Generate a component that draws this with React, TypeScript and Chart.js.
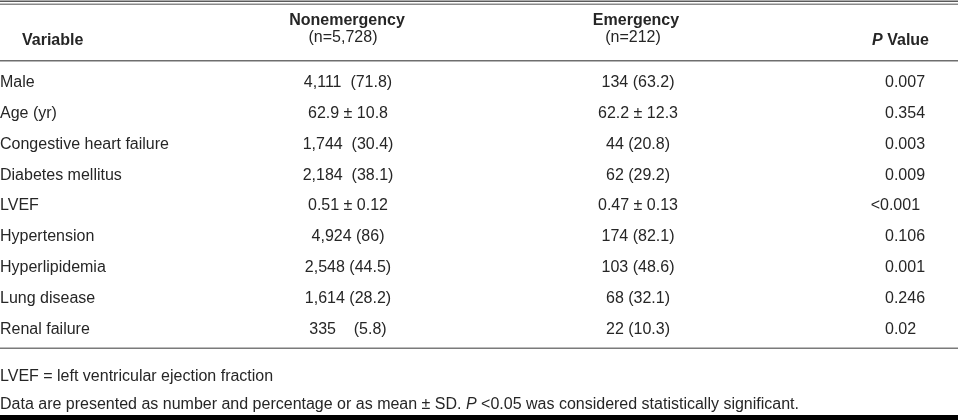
import React, { useEffect, useRef } from "react";
import { Chart, registerables } from "chart.js";

Chart.register(...registerables);

const variables = [
  "Male",
  "Age (yr)",
  "Congestive heart failure",
  "Diabetes mellitus",
  "LVEF",
  "Hypertension",
  "Hyperlipidemia",
  "Lung disease",
  "Renal failure",
];
const nonEmergency = [
  "4,111  (71.8)",
  "62.9 ± 10.8",
  "1,744  (30.4)",
  "2,184  (38.1)",
  "0.51 ± 0.12",
  "4,924 (86)",
  "2,548 (44.5)",
  "1,614 (28.2)",
  "335    (5.8)",
];
const emergency = [
  "134 (63.2)",
  "62.2 ± 12.3",
  "44 (20.8)",
  "62 (29.2)",
  "0.47 ± 0.13",
  "174 (82.1)",
  "103 (48.6)",
  "68 (32.1)",
  "22 (10.3)",
];
const pValues = ["0.007", "0.354", "0.003", "0.009", "<0.001", "0.106", "0.001", "0.246", "0.02"];
const headers = ["Variable", "Nonemergency", "(n=5,728)", "Emergency", "(n=212)", "Value"];
const footnote1 = "LVEF = left ventricular ejection fraction";
const footnote2a = "Data are presented as number and percentage or as mean ± SD. ";
const footnote2b = " <0.05 was considered statistically significant.";

const FONT = "'Liberation Sans', Arial, Helvetica, sans-serif";
const TEXT = "#262626";
const W = 958;
const H = 420;

const tablePlugin = {
  id: "tablePlugin",
  afterDraw(chart: any) {
    const ctx = chart.ctx as CanvasRenderingContext2D;
    const y = chart.scales.y;
    const colNon = 348;
    const colEm = 638;
    const colP = 885;
    ctx.save();
    ctx.textBaseline = "middle";

    // rules
    const hline = (yy: number, t: number, c: string) => {
      ctx.fillStyle = c;
      ctx.fillRect(0, yy, W, t);
    };
    hline(0.5, 1.5, "#5a5a5a");
    hline(3.5, 1.5, "#8a8a8a");
    hline(60, 1.5, "#6e6e6e");
    hline(347.5, 1.5, "#7a7a7a");
    hline(415, 5, "#000000");

    ctx.fillStyle = TEXT;
    // header
    ctx.font = `bold 16px ${FONT}`;
    ctx.textAlign = "left";
    ctx.fillText(headers[0], 22, 40.5);
    ctx.textAlign = "center";
    ctx.fillText(headers[1], colNon - 1, 20.5);
    ctx.fillText(headers[3], colEm - 2, 20.5);
    ctx.font = `16px ${FONT}`;
    ctx.fillText(headers[2], colNon - 5, 37.5);
    ctx.fillText(headers[4], colEm - 5, 37.5);
    // P Value
    ctx.font = `bold 16px ${FONT}`;
    const vw = ctx.measureText(" " + headers[5]).width;
    ctx.textAlign = "right";
    ctx.fillText(" " + headers[5], 929, 40.5);
    ctx.font = `italic bold 16px ${FONT}`;
    ctx.fillText("P", 929 - vw, 40.5);

    // cells
    ctx.font = `16px ${FONT}`;
    variables.forEach((_, i) => {
      const py = y.getPixelForValue(i);
      ctx.textAlign = "center";
      ctx.fillText(nonEmergency[i], colNon, py);
      ctx.fillText(emergency[i], colEm, py);
      const p = pValues[i];
      ctx.textAlign = "left";
      if (p.startsWith("<")) {
        const num = p.slice(1);
        ctx.fillText(num, colP - 5, py);
        ctx.textAlign = "right";
        ctx.fillText("<", colP - 5, py);
      } else {
        ctx.fillText(p, colP, py);
      }
    });

    // footnotes
    ctx.textAlign = "left";
    ctx.font = `16px ${FONT}`;
    ctx.fillText(footnote1, 0, 377);
    let x = 0;
    ctx.fillText(footnote2a, x, 405);
    x += ctx.measureText(footnote2a).width;
    ctx.font = `italic 16px ${FONT}`;
    ctx.fillText("P", x, 405);
    x += ctx.measureText("P").width;
    ctx.font = `16px ${FONT}`;
    ctx.fillText(footnote2b, x, 405);
    ctx.restore();
  },
};

export default function App() {
  const ref = useRef<HTMLCanvasElement | null>(null);
  useEffect(() => {
    if (!ref.current) return;
    const chart = new Chart(ref.current, {
      type: "bar",
      data: {
        labels: variables,
        datasets: [{ data: variables.map(() => null as any), backgroundColor: "transparent" }],
      },
      options: {
        animation: false,
        responsive: false,
        indexAxis: "y",
        layout: { padding: { top: 67, bottom: 75, left: 0, right: 0 } },
        plugins: { legend: { display: false }, tooltip: { enabled: false } },
        scales: {
          x: { display: false, min: 0, max: 1 },
          y: {
            type: "category",
            grid: { display: false },
            border: { display: false },
            ticks: {
              crossAlign: "far",
              padding: 0,
              color: TEXT,
              font: { family: FONT, size: 16 },
            },
          },
        },
      },
      plugins: [tablePlugin],
    });
    return () => chart.destroy();
  }, []);
  return (
    <div style={{ position: "fixed", left: 0, top: 0, width: W, height: H, background: "#fff" }}>
      <canvas ref={ref} width={W} height={H} style={{ width: W, height: H, display: "block" }} />
    </div>
  );
}
